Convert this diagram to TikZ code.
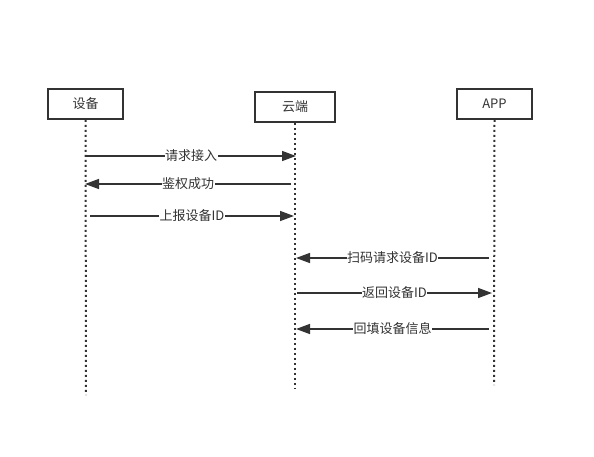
\documentclass[tikz,border=0pt]{standalone}
\usepackage{fontspec}
\setmainfont{Noto Sans CJK SC}
\usetikzlibrary{arrows.meta}
\definecolor{ink}{HTML}{333333}
\begin{document}
\begin{tikzpicture}[x=1pt,y=-1pt,
  actor/.style={draw=ink,line width=1.8pt,minimum width=75pt,minimum height=30pt,inner sep=0pt,font=\fontsize{13}{15}\selectfont,text=ink},
  life/.style={draw=ink,line width=2pt,dash pattern=on 2pt off 3pt},
  msg/.style={draw=ink,line width=1.5pt,-{Triangle[length=14pt,width=10pt]}},
  lbl/.style={fill=white,inner sep=0.5pt,font=\fontsize{13}{15}\selectfont,text=ink}]
\useasboundingbox (0,0) rectangle (594,457);
\node[actor] (dev) at (85.5,104) {设备};
\node[actor,minimum width=80pt] (cloud) at (295,107) {云端};
\node[actor] (app) at (494.5,104) {APP};
\coordinate (devE) at (86,395);
\coordinate (cloudE) at (295,388);
\coordinate (appE) at (494,385);
\draw[life] (dev.south) -- (devE);
\draw[life] (cloud.south) -- (cloudE);
\draw[life] (app.south) -- (appE);
\coordinate (a1) at (86,156); \coordinate (b1) at (296,156);
\coordinate (a2) at (291,184); \coordinate (b2) at (85,184);
\coordinate (a3) at (90,216); \coordinate (b3) at (294,216);
\coordinate (a4) at (489,258); \coordinate (b4) at (296,258);
\coordinate (a5) at (297,293); \coordinate (b5) at (492,293);
\coordinate (a6) at (489,329); \coordinate (b6) at (296,329);
\draw[msg] (a1) -- node[lbl] {请求接入} (b1);
\draw[msg] (a2) -- node[lbl] {鉴权成功} (b2);
\draw[msg] (a3) -- node[lbl] {上报设备ID} (b3);
\draw[msg] (a4) -- node[lbl] {扫码请求设备ID} (b4);
\draw[msg] (a5) -- node[lbl] {返回设备ID} (b5);
\draw[msg] (a6) -- node[lbl] {回填设备信息} (b6);
\end{tikzpicture}
\end{document}
